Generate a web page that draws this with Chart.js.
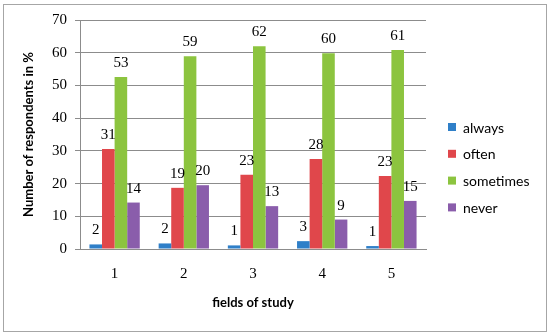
<!DOCTYPE html>
<html>
<head>
<meta charset="utf-8">
<script src="https://cdn.jsdelivr.net/npm/chart.js@4/dist/chart.umd.min.js"></script>
<style>
  body { margin: 0; background: #fff; }
  #wrap { width: 550px; height: 335px; }
</style>
</head>
<body>
<div id="wrap"><canvas id="chart" width="550" height="335"></canvas></div>
<script>
const categories = ['1', '2', '3', '4', '5'];
const seriesNames = ['always', 'often', 'sometimes', 'never'];
const always = [1.4, 1.7, 1.1, 2.4, 0.9];
const often = [30.6, 18.7, 22.7, 27.5, 22.3];
const sometimes = [52.6, 58.9, 62.0, 59.8, 60.8];
const never = [14.2, 19.5, 13.1, 9.0, 14.7];
// numbers printed above the bars
const alwaysLabels = [2, 2, 1, 3, 1];
const oftenLabels = [31, 19, 23, 28, 23];
const sometimesLabels = [53, 59, 62, 60, 61];
const neverLabels = [14, 20, 13, 9, 15];
const yTicks = [0, 10, 20, 30, 40, 50, 60, 70];

const colors = ['#2f7fc8', '#e0474b', '#8cc43f', '#8a5dab'];
const serif = '"Liberation Serif", serif';
const sans = 'Lato, "Liberation Sans", sans-serif';

const values = [always, often, sometimes, never];
const labels = [alwaysLabels, oftenLabels, sometimesLabels, neverLabels];

// border, bar labels and legend
const extras = {
  id: 'extras',
  beforeDraw(chart) {
    const ctx = chart.ctx;
    ctx.save();
    ctx.fillStyle = '#fff';
    ctx.fillRect(0, 0, chart.width, chart.height);
    ctx.restore();
  },
  afterDatasetsDraw(chart) {
    const ctx = chart.ctx;
    ctx.save();
    ctx.font = '15px ' + serif;
    ctx.fillStyle = '#000';
    ctx.textAlign = 'center';
    ctx.textBaseline = 'alphabetic';
    chart.data.datasets.forEach((ds, i) => {
      chart.getDatasetMeta(i).data.forEach((bar, j) => {
        ctx.fillText(String(labels[i][j]), bar.x, bar.y - 10);
      });
    });

    // legend
    ctx.font = '14px ' + sans;
    ctx.textAlign = 'left';
    ctx.textBaseline = 'middle';
    chart.data.datasets.forEach((ds, i) => {
      const y = 127 + i * 26.8;
      ctx.fillStyle = ds.backgroundColor;
      ctx.fillRect(448, y - 4, 8, 8);
      ctx.fillStyle = '#000';
      ctx.fillText(ds.label, 463, y + 1);
    });

    // outer frame
    ctx.strokeStyle = '#a6a6a6';
    ctx.lineWidth = 1;
    ctx.strokeRect(3.5, 4.5, 543, 327);
    ctx.restore();
  }
};

new Chart(document.getElementById('chart').getContext('2d'), {
  type: 'bar',
  data: {
    labels: categories,
    datasets: seriesNames.map((name, i) => ({
      label: name,
      data: values[i],
      backgroundColor: colors[i],
      borderWidth: 0,
      categoryPercentage: 4 / 5.5,
      barPercentage: 1
    }))
  },
  options: {
    responsive: false,
    animation: false,
    layout: { padding: { left: 8, right: 124, top: 20, bottom: 10 } },
    plugins: {
      legend: { display: false },
      tooltip: { enabled: false }
    },
    scales: {
      x: {
        grid: { display: false, drawTicks: false },
        border: { display: true, color: '#8c8c8c' },
        ticks: { color: '#000', font: { family: serif, size: 15 }, padding: 16 },
        title: {
          display: true,
          text: 'fields of study',
          color: '#000',
          font: { family: sans, size: 13, weight: 'bold' },
          padding: { top: 0, bottom: 14 }
        },
        afterFit(scale) { scale.height = 335 - 249 - 10; }
      },
      y: {
        min: 0,
        max: 70,
        afterBuildTicks(scale) { scale.ticks = yTicks.map(v => ({ value: v })); },
        grid: { color: '#8c8c8c', tickLength: 5 },
        border: { display: true, color: '#8c8c8c' },
        ticks: { color: '#000', font: { family: serif, size: 15 }, padding: 8 },
        title: {
          display: true,
          text: 'Number of respondents in %',
          color: '#000',
          font: { family: sans, size: 13, weight: 'bold' },
          padding: { top: 13, bottom: 0 }
        },
        afterFit(scale) { scale.width = 80 - 8; }
      }
    }
  },
  plugins: [extras]
});
</script>
</body>
</html>
